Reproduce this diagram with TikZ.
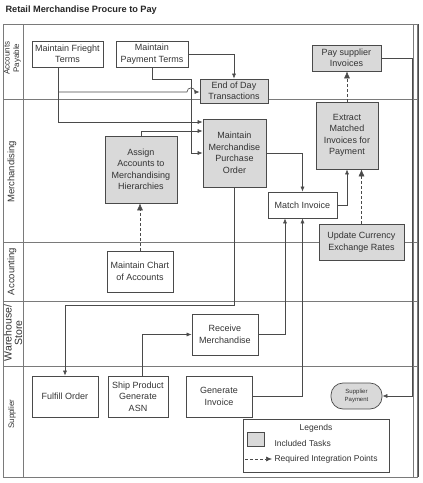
\documentclass[tikz,border=0pt]{standalone}
\usepackage{fontspec}
\setmainfont{Liberation Sans}
\usetikzlibrary{arrows.meta}
\definecolor{boxgray}{HTML}{D9D9D9}
\definecolor{linegray}{HTML}{4A4A4A}
\definecolor{lanegray}{HTML}{7A7A7A}
\begin{document}
\begin{tikzpicture}[x=1pt,y=-1pt,
  task/.style={draw=linegray,line width=0.7pt,align=center,inner sep=0pt,text=black!80,
    font=\fontsize{9}{11.5}\selectfont},
  inc/.style={task,fill=boxgray},
  conn/.style={draw=linegray,line width=0.6pt,-{Latex[length=5pt,width=4pt]}},
  dconn/.style={draw=linegray,line width=0.6pt,dash pattern=on 3pt off 2pt,-{Latex[length=7pt,width=6pt]}},
  lane/.style={rotate=90,align=center,text=black!80,inner sep=0pt}]
\useasboundingbox (0,0) rectangle (423,483);
% title
\node[anchor=west,font=\fontsize{9.2}{10}\bfseries,text=black!85] (title) at (2,10) {Retail Merchandise Procure to Pay};
% frame and lanes
\draw[lanegray,line width=0.7pt] (3,24) rectangle (417,477);
\draw[lanegray,line width=0.7pt] (23,24) -- (23,477);
\draw[lanegray,line width=0.6pt] (413,24) -- (413,477);
\draw[black!70,line width=1.6pt] (418.5,24) -- (418.5,477);
\foreach \yy in {99,242,301,366} \draw[lanegray,line width=0.7pt] (3,\yy) -- (417,\yy);
\node[lane,font=\fontsize{8}{9.5}\selectfont] (lap) at (12.5,58) {Accounts\\Payable};
\node[lane,font=\fontsize{9.5}{10}\selectfont] (lme) at (12,172) {Merchandising};
\node[lane,font=\fontsize{9.5}{10}\selectfont] (lac) at (12,271.5) {Accounting};
\node[lane,font=\fontsize{10.5}{10.5}\selectfont] (lwh) at (13,333) {Warehouse/\\Store};
\node[lane,font=\fontsize{8}{9}\selectfont] (lsu) at (12,414) {Supplier};
% tasks
\node[task,minimum width=71,minimum height=26] (frt) at (67.5,54) {Maintain Frieght\\Terms};
\node[task,minimum width=72,minimum height=26] (pay) at (152,54) {Maintain\\Payment Terms};
\node[inc,minimum width=68,minimum height=24] (eod) at (234,91) {End of Day\\Transactions};
\node[inc,minimum width=69,minimum height=26] (psi) at (346.5,58) {Pay supplier\\Invoices};
\node[inc,minimum width=62,minimum height=67] (ext) at (347,135.5) {Extract\\Matched\\Invoices for\\Payment};
\node[inc,minimum width=63,minimum height=68] (mpo) at (234.5,153) {Maintain\\Merchandise\\Purchase\\Order};
\node[inc,minimum width=72,minimum height=67] (asg) at (141,169.5) {Assign\\Accounts to\\Merchandising\\Hierarchies};
\node[task,minimum width=69,minimum height=26] (mi) at (302.5,205) {Match Invoice};
\node[inc,minimum width=85,minimum height=36] (uce) at (361.5,242) {Update Currency\\Exchange Rates};
\node[task,minimum width=66,minimum height=41] (mca) at (140,271.5) {Maintain Chart\\of Accounts};
\node[task,minimum width=66,minimum height=41] (rm) at (225,334.5) {Receive\\Merchandise};
\node[task,minimum width=66,minimum height=41] (fo) at (65,396.5) {Fulfill Order};
\node[task,minimum width=60,minimum height=41] (sp) at (138,396.5) {Ship Product\\Generate\\ASN};
\node[task,minimum width=66,minimum height=41] (gi) at (219,396.5) {Generate\\Invoice};
\node[inc,minimum width=51,minimum height=26,rounded corners=12pt,font=\fontsize{6}{7.5}\selectfont] (spay) at (356.5,396) {Supplier\\Payment};
% connectors
\draw[conn] (frt.south -| 58,0) -- (58,122) -- (mpo.west |- 0,122);
\draw[conn] (58,92) -- (187,92) .. controls (187,86.5) and (195,86.5) .. (195,92) -- (eod.west |- 0,92);
\draw[conn] (pay.east) -| (eod.north);
\draw[conn] (pay.south) |- (191,79) |- (mpo.west);
\draw[conn] (asg.north) |- (mpo.west |- 0,131);
\draw[conn] (mpo.east) -| (mi.north);
\draw[conn] (mi.east) -| (ext.south);
\draw[dconn] (uce.north) -- (uce.north |- ext.south);
\draw[dconn] (ext.north) -- (ext.north |- psi.south);
\draw[conn] (psi.east) -| (412,396) -- (spay.east);
\draw[dconn] (mca.north) -- (mca.north |- asg.south);
\draw[conn] (mpo.south) |- (65,305) -- (fo.north);
\draw[conn] ([xshift=4pt]sp.north) |- (rm.west);
\draw[conn] (rm.east) -| ([xshift=-17.5pt]mi.south);
\draw[conn] (gi.east) -| (mi.south);
% legend
\node[draw=linegray,line width=0.7pt,minimum width=146,minimum height=53,inner sep=0pt] (leg) at (316,445.5) {};
\node[text=black!80,font=\fontsize{8.5}{10}\selectfont] (legt) at (316,428) {Legends};
\node[draw=linegray,line width=0.6pt,fill=boxgray,minimum width=17,minimum height=14,inner sep=0pt] (legbox) at (255.5,439) {};
\node[anchor=west,text=black!80,font=\fontsize{8.5}{10}\selectfont] (legi) at (271,443) {Included Tasks};
\coordinate (la) at (245,459);
\coordinate (lb) at (272,459);
\draw[dconn,-{Latex[length=6pt,width=5pt]}] (la) -- (lb);
\node[anchor=west,text=black!80,font=\fontsize{8.5}{10}\selectfont] (legr) at (271,459) {Required Integration Points};
\end{tikzpicture}
\end{document}
